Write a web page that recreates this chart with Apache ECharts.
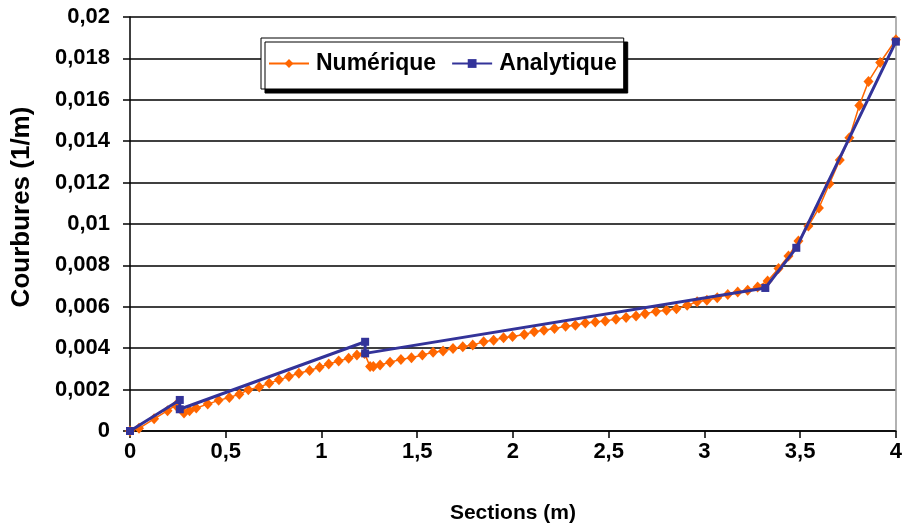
<!DOCTYPE html>
<html>
<head>
<meta charset="utf-8">
<script src="https://cdn.jsdelivr.net/npm/echarts@6/dist/echarts.min.js"></script>
<style>html,body{margin:0;padding:0;background:#fff;overflow:hidden;}#c{width:905px;height:529px;}</style>
</head>
<body>
<div id="c"></div>
<script>
// Numérique series (x in m, curvature in 1/m)
var numX = [0.000,0.047,0.126,0.196,0.239,0.282,0.311,0.346,0.406,0.463,0.519,0.571,0.618,0.675,0.727,0.778,0.830,0.882,0.938,0.990,1.038,1.090,1.142,1.185,1.225,1.254,1.271,1.306,1.358,1.415,1.470,1.527,1.583,1.635,1.687,1.738,1.790,1.847,1.899,1.951,1.998,2.059,2.111,2.162,2.217,2.275,2.326,2.378,2.430,2.482,2.538,2.591,2.643,2.690,2.747,2.802,2.854,2.910,2.962,3.013,3.067,3.122,3.174,3.226,3.278,3.330,3.387,3.439,3.491,3.543,3.598,3.653,3.707,3.757,3.809,3.857,3.918,4.000];
var numY = [0.00000,0.00013,0.00059,0.00098,0.00125,0.00087,0.00098,0.00111,0.00130,0.00148,0.00162,0.00178,0.00199,0.00212,0.00231,0.00247,0.00263,0.00279,0.00292,0.00308,0.00324,0.00338,0.00351,0.00367,0.00375,0.00311,0.00311,0.00319,0.00332,0.00346,0.00354,0.00367,0.00380,0.00386,0.00399,0.00407,0.00415,0.00431,0.00439,0.00450,0.00456,0.00466,0.00479,0.00487,0.00495,0.00506,0.00511,0.00522,0.00527,0.00532,0.00540,0.00548,0.00556,0.00567,0.00577,0.00583,0.00591,0.00607,0.00624,0.00632,0.00644,0.00660,0.00672,0.00680,0.00696,0.00725,0.00785,0.00846,0.00918,0.00990,0.01077,0.01195,0.01309,0.01417,0.01572,0.01689,0.01780,0.01890];
// Analytique series
var anaX = [0.000,0.260,0.260,1.228,1.228,3.318,3.480,4.000];
var anaY = [0.00000,0.00150,0.00105,0.00431,0.00375,0.00691,0.00885,0.01881];
var seriesNames = ['Numérique','Analytique'];
var xTitle = 'Sections (m)';
var yTitle = 'Courbures (1/m)';

function pairs(xs, ys){ return xs.map(function(x,i){ return [x, ys[i]]; }); }
function fmt(v){ return String(+v.toFixed(4)).replace('.', ','); }

var chart = echarts.init(document.getElementById('c'), null, {renderer:'canvas'});
var font = 'Liberation Sans, Arial, sans-serif';
chart.setOption({
  animation: false,
  backgroundColor: '#fff',
  grid: {left:130, right:4, top:17, bottom:96, containLabel:false},
  legend: {
    left: 261, top: 38, orient: 'horizontal',
    padding: [14, 7, 14, 7], itemGap: 15, itemWidth: 40, itemHeight: 11,
    backgroundColor: '#fff', borderColor: '#000', borderWidth: 1,
    shadowColor: '#000', shadowOffsetX: 4, shadowOffsetY: 4, shadowBlur: 0,
    textStyle: {fontFamily: font, fontWeight: 'bold', fontSize: 23, color: '#000', padding: [0, 0, 0, 2]},
    data: seriesNames
  },
  xAxis: {
    type: 'value', min: 0, max: 4, interval: 0.5,
    name: xTitle, nameLocation: 'middle', nameGap: 72,
    nameTextStyle: {fontFamily: font, fontWeight: 'bold', fontSize: 21, color: '#000'},
    axisLine: {show: true, onZero: false, lineStyle: {color: '#000', width: 1.5}},
    axisTick: {show: true, inside: false, length: 7, lineStyle: {color: '#000', width: 1.5}},
    axisLabel: {margin: 10, fontFamily: font, fontWeight: 'bold', fontSize: 22, color: '#000', formatter: fmt},
    splitLine: {show: false}
  },
  yAxis: [{
    type: 'value', min: 0, max: 0.02, interval: 0.002,
    axisLine: {show: true, lineStyle: {color: '#000', width: 1.5}},
    axisTick: {show: true, inside: false, length: 7, lineStyle: {color: '#000', width: 1.5}},
    axisLabel: {margin: 20, fontFamily: font, fontWeight: 'bold', fontSize: 22, color: '#000', formatter: fmt},
    splitLine: {show: true, lineStyle: {color: '#000', width: 1.5}}
  },{
    type: 'value', min: 0, max: 0.02, position: 'right',
    axisLine: {show: true, lineStyle: {color: '#999', width: 1.5}},
    axisTick: {show: false}, axisLabel: {show: false}, splitLine: {show: false}
  }],
  graphic: [{
    type: 'text', x: 22, y: 207, rotation: Math.PI/2,
    style: {text: yTitle, fill: '#000', font: 'bold 26px ' + font, textAlign: 'center', textVerticalAlign: 'middle'}
  }],
  series: [{
    name: seriesNames[0], type: 'line', data: pairs(numX, numY), z: 3,
    symbol: 'diamond', symbolSize: [10, 11], showAllSymbol: true,
    lineStyle: {color: '#FF6600', width: 1.5},
    itemStyle: {color: '#FF6600'}
  },{
    name: seriesNames[1], type: 'line', data: pairs(anaX, anaY), z: 4,
    symbol: 'rect', symbolSize: 8, showAllSymbol: true,
    lineStyle: {color: '#333399', width: 3},
    itemStyle: {color: '#333399'}
  }]
});
</script>
</body>
</html>
